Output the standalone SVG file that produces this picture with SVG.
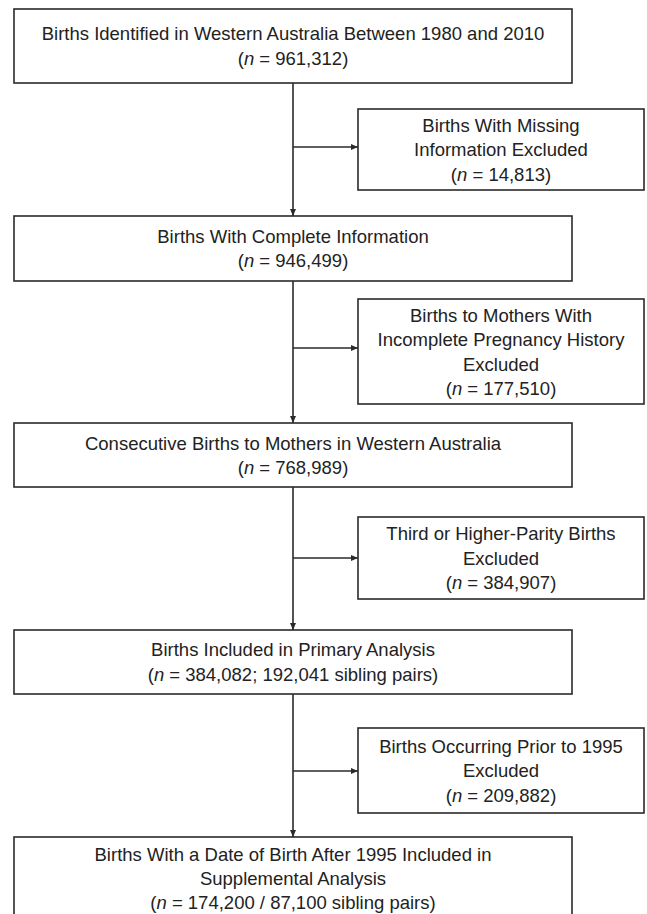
<svg xmlns="http://www.w3.org/2000/svg" width="647" height="914" viewBox="0 0 647 914">
<style>
.box{fill:#fff;stroke:#2a2a2a;stroke-width:1.6}
.t{font-family:"Liberation Sans",Arial,sans-serif;font-size:18.5px;fill:#222;text-anchor:middle}
.i{font-style:italic}
.c{stroke:#2a2a2a;stroke-width:1.6;fill:none;marker-end:url(#ah)}
</style>
<defs>
<marker id="ah" markerUnits="userSpaceOnUse" markerWidth="7" markerHeight="6" refX="7" refY="3" orient="auto">
<path d="M0,0 L7,3 L0,6 z" fill="#2a2a2a"/>
</marker>
</defs>
<rect width="647" height="914" fill="#fff"/>
<g id="connectors">
<line class="c" x1="293" y1="83" x2="293" y2="216"/>
<line class="c" x1="293" y1="147" x2="358" y2="147"/>
<line class="c" x1="293" y1="281" x2="293" y2="423"/>
<line class="c" x1="293" y1="348" x2="358" y2="348"/>
<line class="c" x1="293" y1="487" x2="293" y2="630"/>
<line class="c" x1="293" y1="558" x2="358" y2="558"/>
<line class="c" x1="293" y1="694" x2="293" y2="837"/>
<line class="c" x1="293" y1="771" x2="358" y2="771"/>
</g>
<g id="n1">
<rect class="box" x="14" y="9" width="558" height="74"/>
<text class="t" x="293" y="40">Births Identified in Western Australia Between 1980 and 2010</text>
<text class="t" x="293" y="65">(<tspan class="i">n</tspan> = 961,312)</text>
</g>
<g id="x1">
<rect class="box" x="358" y="109" width="286" height="81"/>
<text class="t" x="501" y="131.5">Births With Missing</text>
<text class="t" x="501" y="156">Information Excluded</text>
<text class="t" x="501" y="180.5">(<tspan class="i">n</tspan> = 14,813)</text>
</g>
<g id="n2">
<rect class="box" x="14" y="216" width="558" height="65"/>
<text class="t" x="293" y="242.5">Births With Complete Information</text>
<text class="t" x="293" y="267">(<tspan class="i">n</tspan> = 946,499)</text>
</g>
<g id="x2">
<rect class="box" x="358" y="299" width="286" height="105"/>
<text class="t" x="501" y="321.5">Births to Mothers With</text>
<text class="t" x="501" y="346">Incomplete Pregnancy History</text>
<text class="t" x="501" y="370.5">Excluded</text>
<text class="t" x="501" y="395">(<tspan class="i">n</tspan> = 177,510)</text>
</g>
<g id="n3">
<rect class="box" x="14" y="423" width="558" height="64"/>
<text class="t" x="293" y="449.5">Consecutive Births to Mothers in Western Australia</text>
<text class="t" x="293" y="474">(<tspan class="i">n</tspan> = 768,989)</text>
</g>
<g id="x3">
<rect class="box" x="358" y="517" width="286" height="82"/>
<text class="t" x="501" y="540">Third or Higher-Parity Births</text>
<text class="t" x="501" y="564.5">Excluded</text>
<text class="t" x="501" y="589">(<tspan class="i">n</tspan> = 384,907)</text>
</g>
<g id="n4">
<rect class="box" x="14" y="630" width="558" height="64"/>
<text class="t" x="293" y="656">Births Included in Primary Analysis</text>
<text class="t" x="293" y="680.5">(<tspan class="i">n</tspan> = 384,082; 192,041 sibling pairs)</text>
</g>
<g id="x4">
<rect class="box" x="358" y="728" width="286" height="85"/>
<text class="t" x="501" y="752.5">Births Occurring Prior to 1995</text>
<text class="t" x="501" y="777">Excluded</text>
<text class="t" x="501" y="801.5">(<tspan class="i">n</tspan> = 209,882)</text>
</g>
<g id="n5">
<rect class="box" x="14" y="837" width="558" height="90"/>
<text class="t" x="293" y="860.5">Births With a Date of Birth After 1995 Included in</text>
<text class="t" x="293" y="884.5">Supplemental Analysis</text>
<text class="t" x="293" y="908.5">(<tspan class="i">n</tspan> = 174,200 / 87,100 sibling pairs)</text>
</g>
</svg>
